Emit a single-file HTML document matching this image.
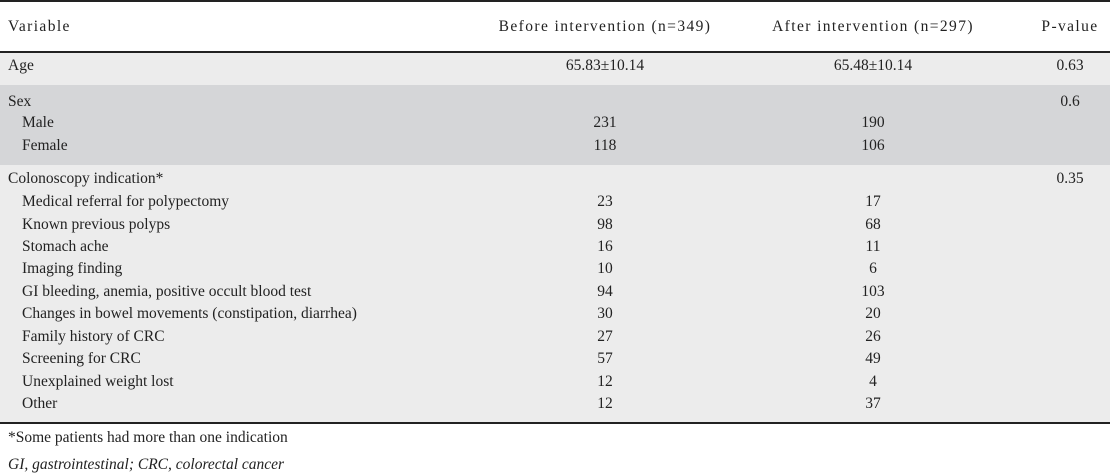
<!DOCTYPE html>
<html><head><meta charset="utf-8"><style>
body{margin:0;width:1110px;height:472px;background:#fff;font-family:"Liberation Serif",serif;font-size:15.5px;color:#222;position:relative;overflow:hidden}
.band{position:absolute;left:0;width:1110px}
.hl{position:absolute;left:0;width:1110px;height:1.5px;background:#222}
.t{position:absolute;white-space:nowrap;line-height:18px}
.c{transform:translateX(-50%)}
.h{letter-spacing:1.4px}
</style></head><body>
<div class="hl" style="top:0"></div>
<div class="band" style="top:52px;height:33px;background:#ececec"></div>
<div class="band" style="top:85px;height:80px;background:#d5d6d8"></div>
<div class="band" style="top:165px;height:257px;background:#ececec"></div>
<div class="hl" style="top:51px"></div>
<div class="hl" style="top:422px"></div>
<div id="rows"></div>
<script>
const labels=["Variable","Age","Sex","Male","Female","Colonoscopy indication*","Medical referral for polypectomy","Known previous polyps","Stomach ache","Imaging finding","GI bleeding, anemia, positive occult blood test","Changes in bowel movements (constipation, diarrhea)","Family history of CRC","Screening for CRC","Unexplained weight lost","Other"];
const before=["Before intervention (n=349)","65.83±10.14","","231","118","","23","98","16","10","94","30","27","57","12","12"];
const after=["After intervention (n=297)","65.48±10.14","","190","106","","17","68","11","6","103","20","26","49","4","37"];
const pval=["P-value","0.63","0.6","","","0.35","","","","","","","","","",""];
const ys=[18,57,93,114,137,170,193,216,238,260,283,305,328,350,373,395];
const indent=[0,0,0,1,1,0,1,1,1,1,1,1,1,1,1,1];
const root=document.getElementById('rows');
function mk(txt,x,y,center,name,hdr){
  if(!txt)return;
  const d=document.createElement('div');
  d.className='t'+(center?' c':'')+(hdr?' h':'');
  d.style.left=x+'px';d.style.top=y+'px';d.textContent=txt;
  
  
  root.appendChild(d);
}
labels.forEach((l,i)=>{
  const h=i===0;
  mk(l,indent[i]?22:8,ys[i],false,i?'row-label':'header-variable',h);
  mk(before[i],605,ys[i],true,i?'before-value':'header-before',h);
  mk(after[i],873,ys[i],true,i?'after-value':'header-after',h);
  mk(pval[i],1070,ys[i],true,i?'p-value':'header-p-value',h);
});
</script>
<div class="t" style="left:8px;top:429px">*Some patients had more than one indication</div>
<div class="t" style="left:8px;top:456px;font-style:italic">GI, gastrointestinal; CRC, colorectal cancer</div>
</body></html>
